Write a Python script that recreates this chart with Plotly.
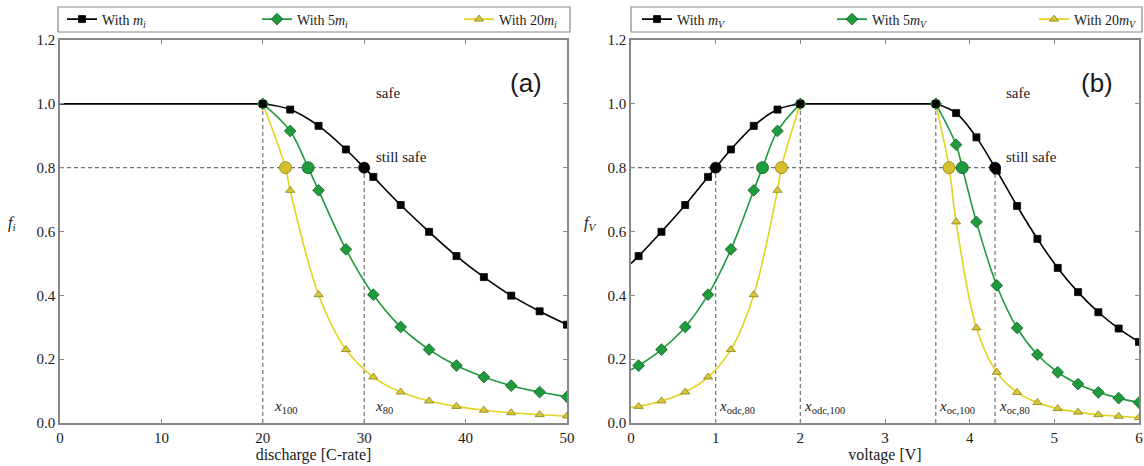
import plotly.graph_objects as go

# ---------------- Panel (a): discharge [C-rate] ----------------
a_x = [20, 22.7, 25.5, 28.2, 30.9, 33.6, 36.4, 39.1, 41.8, 44.5, 47.3, 50]
a_black = [1.0, 0.982, 0.931, 0.857, 0.771, 0.683, 0.599, 0.523, 0.457, 0.399, 0.350, 0.308]
a_green = [1.0, 0.915, 0.729, 0.544, 0.402, 0.301, 0.230, 0.180, 0.144, 0.117, 0.097, 0.082]
a_yellow = [1.0, 0.729, 0.402, 0.230, 0.144, 0.097, 0.069, 0.052, 0.040, 0.032, 0.026, 0.022]
a_flat_x = [0, 20]
a_flat_y = [1.0, 1.0]
a_x80 = [30.0, 24.47, 22.24]          # black, green, yellow crossings of 0.8
a_x100 = 20.0
level80 = 0.8
level100 = 1.0

# ---------------- Panel (b): voltage [V] ----------------
b_left_x = [0.09, 0.36, 0.64, 0.91, 1.18, 1.45, 1.73, 2.0]
b_left_black = [0.523, 0.599, 0.683, 0.771, 0.857, 0.931, 0.982, 1.0]
b_left_green = [0.180, 0.230, 0.301, 0.402, 0.544, 0.729, 0.915, 1.0]
b_left_yellow = [0.052, 0.069, 0.097, 0.144, 0.230, 0.402, 0.729, 1.0]
b_start_x = 0.0
b_start_vals = [0.50, 0.167, 0.048]   # black, green, yellow at 0 V
b_right_x = [3.6, 3.84, 4.08, 4.32, 4.56, 4.80, 5.04, 5.28, 5.52, 5.76, 6.0]
b_right_black = [1.0, 0.971, 0.895, 0.791, 0.680, 0.577, 0.486, 0.410, 0.347, 0.296, 0.254]
b_right_green = [1.0, 0.872, 0.630, 0.431, 0.298, 0.214, 0.159, 0.122, 0.096, 0.078, 0.064]
b_right_yellow = [1.0, 0.630, 0.298, 0.159, 0.096, 0.064, 0.045, 0.034, 0.026, 0.021, 0.017]
b_flat_x = [2.0, 3.6]
b_flat_y = [1.0, 1.0]
b_x80_left = [1.0, 1.553, 1.776]
b_x80_right = [4.3, 3.913, 3.757]
b_odc100 = 2.0
b_oc100 = 3.6

a_ticks = [0, 10, 20, 30, 40, 50]
b_ticks = [0, 1, 2, 3, 4, 5, 6]
y_ticks = [0.0, 0.2, 0.4, 0.6, 0.8, 1.0, 1.2]

names_a = ["With <i>m<sub>i</sub></i>", "With 5<i>m<sub>i</sub></i>", "With 20<i>m<sub>i</sub></i>"]
names_b = ["With <i>m<sub>V</sub></i>", "With 5<i>m<sub>V</sub></i>", "With 20<i>m<sub>V</sub></i>"]

# ---------------- styles ----------------
BLACK = "#000000"
GREEN = "#1f9a3c"
YLINE = "#e3d321"
YFILL = "#d8c73a"
YEDGE = "#8c7d12"
GEDGE = "#0f5f22"
DASH = "#707070"
SERIF = "Liberation Serif"
SANS = "Liberation Sans"
TXT = "#1a1a1a"

styles = [
    dict(color=BLACK, line=BLACK, sym="square", size=7, edge=BLACK),
    dict(color=GREEN, line=GREEN, sym="diamond", size=9, edge=GEDGE),
    dict(color=YFILL, line=YLINE, sym="triangle-up", size=8, edge=YEDGE),
]

fig = go.Figure()


def merged(xs, ys, extra_x, extra_y, start=None):
    pts = list(zip(xs, ys)) + [(extra_x, extra_y)]
    if start is not None:
        pts.append(start)
    pts.sort(key=lambda p: p[0])
    return [p[0] for p in pts], [p[1] for p in pts]


def dashed(xa, ya, x, y):
    fig.add_trace(go.Scatter(x=x, y=y, mode="lines", xaxis=xa, yaxis=ya,
                             line=dict(color=DASH, width=1.2, dash="4px,3px"),
                             showlegend=False, hoverinfo="skip"))


# dashed guide lines (panel a)
dashed("x", "y", [0, a_x80[0]], [level80, level80])
dashed("x", "y", [a_x100, a_x100], [0, level100])
dashed("x", "y", [a_x80[0], a_x80[0]], [0, level80])
# dashed guide lines (panel b)
dashed("x2", "y2", [0, b_x80_right[0]], [level80, level80])
dashed("x2", "y2", [b_x80_left[0], b_x80_left[0]], [0, level80])
dashed("x2", "y2", [b_odc100, b_odc100], [0, level100])
dashed("x2", "y2", [b_oc100, b_oc100], [0, level100])
dashed("x2", "y2", [b_x80_right[0], b_x80_right[0]], [0, level80])

a_series = [a_black, a_green, a_yellow]
b_left_series = [b_left_black, b_left_green, b_left_yellow]
b_right_series = [b_right_black, b_right_green, b_right_yellow]

# curves (drawn back to front: yellow, green, black)
for i in [2, 1, 0]:
    s = styles[i]
    ln = dict(color=s["line"], width=1.6, shape="spline")
    lx, ly = merged(a_x, a_series[i], a_x80[i], level80)
    fig.add_trace(go.Scatter(x=lx, y=ly, mode="lines", xaxis="x", yaxis="y",
                             line=ln, showlegend=False, hoverinfo="skip"))
    lx, ly = merged(b_left_x, b_left_series[i], b_x80_left[i], level80,
                    start=(b_start_x, b_start_vals[i]))
    fig.add_trace(go.Scatter(x=lx, y=ly, mode="lines", xaxis="x2", yaxis="y2",
                             line=ln, showlegend=False, hoverinfo="skip"))
    lx, ly = merged(b_right_x, b_right_series[i], b_x80_right[i], level80)
    fig.add_trace(go.Scatter(x=lx, y=ly, mode="lines", xaxis="x2", yaxis="y2",
                             line=ln, showlegend=False, hoverinfo="skip"))

# flat plateau lines
fig.add_trace(go.Scatter(x=a_flat_x, y=a_flat_y, mode="lines", xaxis="x", yaxis="y",
                         line=dict(color=BLACK, width=1.6), showlegend=False, hoverinfo="skip"))
fig.add_trace(go.Scatter(x=b_flat_x, y=b_flat_y, mode="lines", xaxis="x2", yaxis="y2",
                         line=dict(color=BLACK, width=1.6), showlegend=False, hoverinfo="skip"))

# markers
for i in [2, 1, 0]:
    s = styles[i]
    mk = dict(symbol=s["sym"], size=s["size"], color=s["color"],
              line=dict(color=s["edge"], width=0.8))
    fig.add_trace(go.Scatter(x=a_x, y=a_series[i], mode="markers", xaxis="x", yaxis="y",
                             marker=mk, showlegend=False))
    fig.add_trace(go.Scatter(x=b_left_x + b_right_x, y=b_left_series[i] + b_right_series[i],
                             mode="markers", xaxis="x2", yaxis="y2",
                             marker=mk, showlegend=False))

# 80% crossing circles
circ_fill = [BLACK, GREEN, "#d6c12c"]
circ_edge = [BLACK, GEDGE, YEDGE]
circ_size = [11, 12, 12]
for i in range(3):
    mk = dict(symbol="circle", size=circ_size[i], color=circ_fill[i],
              line=dict(color=circ_edge[i], width=0.8))
    fig.add_trace(go.Scatter(x=[a_x80[i]], y=[level80], mode="markers", xaxis="x", yaxis="y",
                             marker=mk, showlegend=False))
    fig.add_trace(go.Scatter(x=[b_x80_left[i], b_x80_right[i]], y=[level80, level80],
                             mode="markers", xaxis="x2", yaxis="y2",
                             marker=mk, showlegend=False))

# legend entries: one legend per entry so each sits where the reference has it
W, H = 1144, 466
leg_x_px = [62, 257, 459, 637, 832, 1034]
legend_layout = {}
for i in range(3):
    s = styles[i]
    mk = dict(symbol=s["sym"], size=s["size"], color=s["color"],
              line=dict(color=s["edge"], width=0.8))
    for j, (nm, xa, ya) in enumerate([(names_a[i], "x", "y"), (names_b[i], "x2", "y2")]):
        k = i + 3 * j
        lid = "legend" if k == 0 else "legend%d" % (k + 1)
        fig.add_trace(go.Scatter(x=[None], y=[None], mode="lines+markers", xaxis=xa, yaxis=ya,
                                 name=nm, line=dict(color=s["line"], width=1.6),
                                 marker=mk, legend=lid))
        legend_layout[lid] = dict(orientation="h", xanchor="left", yanchor="middle",
                                  x=leg_x_px[k] / W, y=1 - 19.5 / H,
                                  bgcolor="rgba(0,0,0,0)", borderwidth=0,
                                  font=dict(family=SERIF, size=14, color=TXT),
                                  itemclick=False, itemwidth=30)

ax_common = dict(showline=True, linecolor="#888888", linewidth=1.5, mirror="ticks",
                 ticks="inside", ticklen=4, tickcolor="#888888", showgrid=False,
                 zeroline=False, tickfont=dict(family=SERIF, size=15, color=TXT))
y_common = dict(ax_common, range=[0, 1.2], tickvals=y_ticks, tickformat=".1f")

dom_a = [60 / W, 567 / W]
dom_b = [631 / W, 1139 / W]
dom_y = [43 / H, 426 / H]

annotations = []


def ann(text, x, y, xref, yref, size=15, xanchor="left", family=SERIF):
    annotations.append(dict(text=text, x=x, y=y, xref=xref, yref=yref, showarrow=False,
                            xanchor=xanchor, yanchor="middle",
                            font=dict(family=family, size=size, color=TXT)))


ann("safe", 31.0, 1.034, "x", "y")
ann("still safe", 31.0, 0.832, "x", "y")
ann("safe", 4.40, 1.034, "x2", "y2")
ann("still safe", 4.40, 0.832, "x2", "y2")
ann("(a)", 526 / W, 1 - 83 / H, "paper", "paper", size=26, xanchor="center", family=SANS)
ann("(b)", 1097 / W, 1 - 83 / H, "paper", "paper", size=26, xanchor="center", family=SANS)
ann("<i>x</i><sub>100</sub>", a_x100 + 0.9, 0.05, "x", "y")
ann("<i>x</i><sub>80</sub>", a_x80[0] + 0.9, 0.05, "x", "y")
ann("<i>x</i><sub>odc,80</sub>", b_x80_left[0] + 0.02, 0.05, "x2", "y2")
ann("<i>x</i><sub>odc,100</sub>", b_odc100 + 0.02, 0.05, "x2", "y2")
ann("<i>x</i><sub>oc,100</sub>", b_oc100 + 0.02, 0.05, "x2", "y2")
ann("<i>x</i><sub>oc,80</sub>", b_x80_right[0] + 0.02, 0.05, "x2", "y2")
ann("<i>f<sub>i</sub></i>", 12 / W, 1 - 223 / H, "paper", "paper", size=16, xanchor="center")
ann("<i>f<sub>V</sub></i>", 590 / W, 1 - 223 / H, "paper", "paper", size=16, xanchor="center")

shapes = [
    dict(type="rect", xref="paper", yref="paper", x0=58 / W, x1=570 / W,
         y0=1 - 32 / H, y1=1 - 7 / H, line=dict(color="#888888", width=1.2)),
    dict(type="rect", xref="paper", yref="paper", x0=631 / W, x1=1142 / W,
         y0=1 - 32 / H, y1=1 - 7 / H, line=dict(color="#888888", width=1.2)),
]

fig.update_layout(
    width=W, height=H, margin=dict(l=0, r=0, t=0, b=0, autoexpand=False),
    paper_bgcolor="white", plot_bgcolor="white",
    xaxis=dict(ax_common, domain=dom_a, range=[0, 50], tickvals=a_ticks, anchor="y",
               title=dict(text="discharge [C-rate]", font=dict(family=SERIF, size=16, color=TXT),
                          standoff=2)),
    yaxis=dict(y_common, domain=dom_y, anchor="x"),
    xaxis2=dict(ax_common, domain=dom_b, range=[0, 6], tickvals=b_ticks, anchor="y2",
                title=dict(text="voltage [V]", font=dict(family=SERIF, size=16, color=TXT),
                           standoff=2)),
    yaxis2=dict(y_common, domain=dom_y, anchor="x2"),
    annotations=annotations,
    shapes=shapes,
    showlegend=True,
    **legend_layout,
)

fig.write_html("out.html",
               config={"displayModeBar": False},
               post_script="document.body.style.margin='0';"
                           "document.body.style.overflow='hidden';")
